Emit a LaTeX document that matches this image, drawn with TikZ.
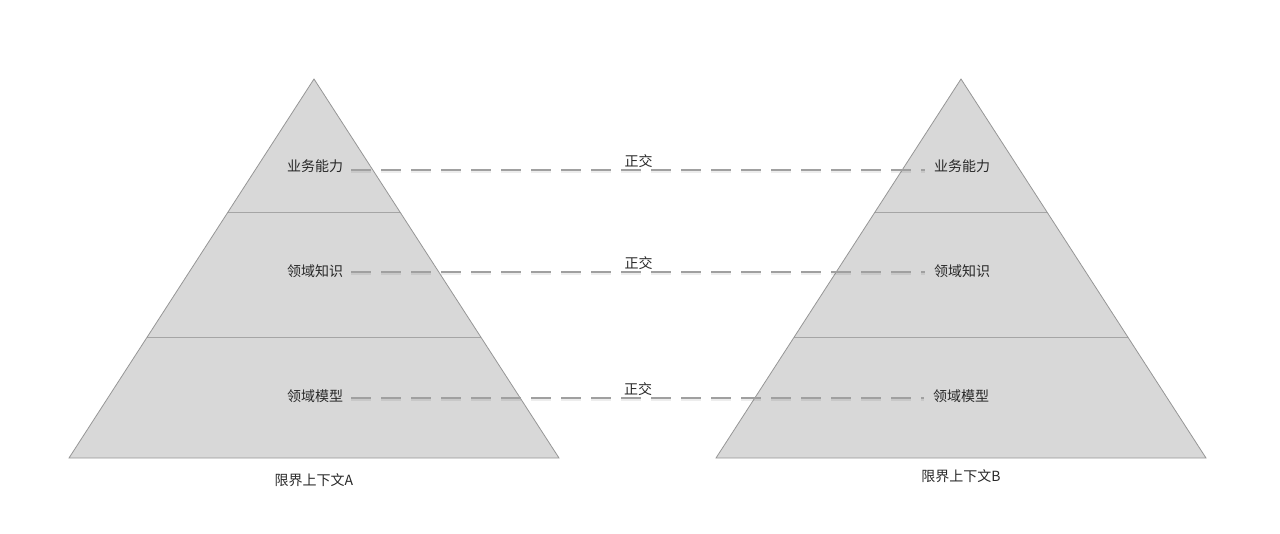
\documentclass[tikz,border=0pt]{standalone}
\usepackage{fontspec}
\setmainfont{Noto Sans CJK SC}
\usepackage{xcolor}
\definecolor{pyrfill}{RGB}{216,216,216}
\definecolor{pyrline}{RGB}{150,150,150}
\definecolor{sepline}{RGB}{165,165,165}
\definecolor{linkgray}{RGB}{160,160,160}
\definecolor{textgray}{RGB}{40,40,40}
\usepackage{tikz}
\usetikzlibrary{positioning,calc}

\tikzset{
  layer/.style={font=\fontsize{14}{14}\selectfont, text=textgray, inner sep=2pt},
  ctxlabel/.style={font=\fontsize{14}{14}\selectfont, text=textgray},
  orthlink/.style={linkgray, line width=1.2pt, dash pattern=on 20pt off 10pt,
    preaction={draw=black, draw opacity=0.07, line width=3pt, dash pattern=on 20pt off 10pt,
      transform canvas={yshift=-1.5pt}}},
  orthlabel/.style={font=\fontsize{14}{14}\selectfont, text=textgray, inner sep=1pt}
}

\begin{document}
\begin{tikzpicture}[x=1pt, y=-1pt]
  % Cadre de l'image
  \useasboundingbox (0,0) rectangle (1280,534);

  % Pyramide gauche
  \coordinate (atop) at (314,79);
  \coordinate (aleft) at (69,458);
  \coordinate (aright) at (559,458);
  \fill[pyrfill] (atop) -- (aleft) -- (aright) -- cycle;
  \draw[sepline, line width=0.8pt] ($(atop)!0.351!(aleft)$) -- ($(atop)!0.351!(aright)$);
  \draw[sepline, line width=0.8pt] ($(atop)!0.681!(aleft)$) -- ($(atop)!0.681!(aright)$);
  \draw[pyrline, line width=0.8pt] (atop) -- (aleft) -- (aright) -- cycle;

  % Pyramide droite
  \coordinate (btop) at (961,79);
  \coordinate (bleft) at (716,458);
  \coordinate (bright) at (1206,458);
  \fill[pyrfill] (btop) -- (bleft) -- (bright) -- cycle;
  \draw[sepline, line width=0.8pt] ($(btop)!0.351!(bleft)$) -- ($(btop)!0.351!(bright)$);
  \draw[sepline, line width=0.8pt] ($(btop)!0.681!(bleft)$) -- ($(btop)!0.681!(bright)$);
  \draw[pyrline, line width=0.8pt] (btop) -- (bleft) -- (bright) -- cycle;

  % Couches
  \node[layer] (acap) at (315,166) {业务能力};
  \node[layer] (aknow) at (315,271) {领域知识};
  \node[layer] (amodel) at (315,396) {领域模型};
  \node[layer] (bcap) at (962,166) {业务能力};
  \node[layer] (bknow) at (962,271) {领域知识};
  \node[layer] (bmodel) at (961,396) {领域模型};

  % Liens orthogonaux
  \draw[orthlink, shorten <=6pt, shorten >=7pt] ([yshift=-4pt]acap.east) -- ([yshift=-4pt]bcap.west)
    node[orthlabel, midway, above=1pt] (ocap) {正交};
  \draw[orthlink, shorten <=6pt, shorten >=7pt] ([yshift=-1pt]aknow.east) -- ([yshift=-1pt]bknow.west)
    node[orthlabel, midway, above=1pt] (oknow) {正交};
  \draw[orthlink, shorten <=6pt, shorten >=7pt] ([yshift=-2pt]amodel.east) -- ([yshift=-2pt]bmodel.west)
    node[orthlabel, midway, above=1pt] (omodel) {正交};

  % Contextes
  \node[ctxlabel] (ctxa) at (314,480) {限界上下文A};
  \node[ctxlabel] (ctxb) at (961,476) {限界上下文B};
\end{tikzpicture}
\end{document}
